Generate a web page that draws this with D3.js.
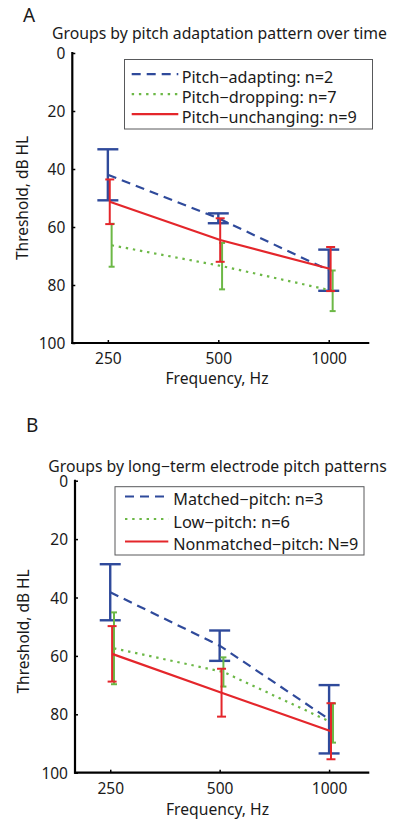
<!DOCTYPE html>
<html>
<head>
<meta charset="utf-8">
<script src="https://cdn.jsdelivr.net/npm/d3@7"></script>
<style>
  html, body { margin: 0; padding: 0; background: #fff; }
  svg { display: block; }
  text { font-family: "Noto Sans", "Open Sans", sans-serif; fill: #1a1a1a; }
</style>
</head>
<body>
<svg id="chart" width="400" height="825"></svg>
<script>
// ---------- data ----------
const xTickValues = [250, 500, 1000];
const xTickLabels = ["250", "500", "1000"];
const yTickValues = [0, 20, 40, 60, 80, 100];

// Panel A: groups by pitch adaptation pattern over time
const aLabels = ["Pitch\u2212adapting: n=2", "Pitch\u2212dropping: n=7", "Pitch\u2212unchanging: n=9"];
const aAdaptingX = [250, 500, 1000];
const aAdaptingMean = [42.0, 57.0, 74.9];
const aAdaptingErr = [8.8, 1.7, 7.1];
const aDroppingX = [256, 512, 1025];
const aDroppingMean = [66.3, 73.5, 82.0];
const aDroppingErr = [7.4, 8.0, 7.0];
const aUnchangingX = [253, 506, 1012];
const aUnchangingMean = [51.3, 64.5, 74.5];
const aUnchangingErr = [7.7, 7.5, 7.6];

// Panel B: groups by long-term electrode pitch patterns
const bLabels = ["Matched\u2212pitch: n=3", "Low\u2212pitch: n=6", "Nonmatched\u2212pitch: N=9"];
const bMatchedX = [250, 500, 1000];
const bMatchedMean = [38.2, 56.5, 81.7];
const bMatchedErr = [9.6, 5.2, 11.7];
const bLowX = [256, 512, 1025];
const bLowMean = [57.4, 65.5, 83.0];
const bLowErr = [12.3, 5.0, 6.7];
const bNonmatchedX = [253, 506, 1012];
const bNonmatchedMean = [59.3, 72.6, 85.8];
const bNonmatchedErr = [9.5, 8.2, 9.6];

// ---------- styles ----------
const BLUE = "#2f4a9b", GREEN = "#6cb846", RED = "#e4262b";
const styles = [
  { color: BLUE,  dash: "9,6",     cap: 10.5, barW: 2.4 },
  { color: GREEN, dash: "2.4,4.8", cap: 3,    barW: 2.0 },
  { color: RED,   dash: null,      cap: 4.5,  barW: 2.0 }
];
const FONT = '"Noto Sans", "Open Sans", sans-serif';

const svg = d3.select("#chart");

function drawPanel(cfg) {
  const g = svg.append("g");
  const x = d3.scaleLog().domain([200, 1290]).range([cfg.left, cfg.right]);
  const y = d3.scaleLinear().domain([0, 100]).range([cfg.top, cfg.bottom]);

  // panel letter
  g.append("text").attr("x", cfg.letterX).attr("y", cfg.letterY)
    .style("font-size", "19px").text(cfg.letter);
  // title
  g.append("text").attr("x", cfg.titleX).attr("y", cfg.titleY)
    .attr("textLength", cfg.titleLen).attr("lengthAdjust", "spacingAndGlyphs")
    .style("font-size", "15.5px").text(cfg.title);

  // axes
  const yAxis = d3.axisLeft(y).tickValues(yTickValues).tickSize(-3).tickPadding(7)
    .tickFormat(d3.format("d"));
  const yg = g.append("g").attr("transform", `translate(${cfg.left},0)`).call(yAxis);
  const xAxis = d3.axisBottom(x).tickValues(xTickValues).tickSize(-3).tickPadding(10)
    .tickFormat((d, i) => xTickLabels[i]);
  const xg = g.append("g").attr("transform", `translate(0,${cfg.bottom})`).call(xAxis);
  [yg, xg].forEach(a => {
    a.select(".domain").attr("stroke", "#000").attr("stroke-width", 2.2);
    a.selectAll(".tick line").attr("stroke", "#000").attr("stroke-width", 1.5);
    a.selectAll(".tick text").style("font-size", "15.5px").attr("fill", "#1a1a1a")
      .style("font-family", FONT);
  });
  yg.select(".domain").attr("d", `M0,${cfg.top - 1}V${cfg.bottom + 1}`);
  xg.select(".domain").attr("d", `M${cfg.left - 1},0H${cfg.right}`);
  yg.selectAll(".tick text").attr("dy", "0.36em");
  xg.selectAll(".tick text").attr("dy", "0.71em");

  // axis labels
  g.append("text").attr("transform", `translate(${cfg.yLabelX},${cfg.yLabelY}) rotate(-90)`)
    .attr("text-anchor", "middle").attr("textLength", 124).attr("lengthAdjust", "spacingAndGlyphs")
    .style("font-size", "15.5px").text("Threshold, dB HL");
  g.append("text").attr("x", cfg.xLabelX).attr("y", cfg.xLabelY)
    .attr("text-anchor", "middle").attr("textLength", 103).attr("lengthAdjust", "spacingAndGlyphs")
    .style("font-size", "15.5px").text("Frequency, Hz");

  // series
  const line = d3.line().x(d => x(d.f)).y(d => y(d.m));
  cfg.series.forEach((s, si) => {
    const st = styles[si];
    const pts = s.xs.map((f, i) => ({ f, m: s.mean[i], e: s.err[i] }));
    const sg = g.append("g");
    pts.forEach(p => {
      const px = x(p.f), y1 = y(p.m - p.e), y2 = y(p.m + p.e);
      sg.append("line").attr("x1", px).attr("x2", px).attr("y1", y1).attr("y2", y2)
        .attr("stroke", st.color).attr("stroke-width", st.barW);
      [y1, y2].forEach(yy => sg.append("line")
        .attr("x1", px - st.cap).attr("x2", px + st.cap).attr("y1", yy).attr("y2", yy)
        .attr("stroke", st.color).attr("stroke-width", st.barW));
    });
    sg.append("path").datum(pts).attr("d", line).attr("fill", "none")
      .attr("stroke", st.color).attr("stroke-width", 2.2)
      .attr("stroke-dasharray", st.dash);
  });

  // legend
  const L = cfg.legend;
  g.append("rect").attr("x", L.x).attr("y", L.y).attr("width", L.w).attr("height", L.h)
    .attr("fill", "#fff").attr("stroke", "#58595b").attr("stroke-width", 1);
  cfg.labels.forEach((lab, i) => {
    const st = styles[i];
    const by = L.firstBase + i * L.step;
    g.append("line").attr("x1", L.sx1).attr("x2", L.sx2)
      .attr("y1", by - 8.5).attr("y2", by - 8.5)
      .attr("stroke", st.color).attr("stroke-width", 2.2)
      .attr("stroke-dasharray", st.dash);
    g.append("text").attr("x", L.tx).attr("y", by)
      .attr("textLength", L.lens[i]).attr("lengthAdjust", "spacingAndGlyphs")
      .style("font-size", "15.5px").text(lab);
  });
}

drawPanel({
  letter: "A", letterX: 23, letterY: 22,
  title: "Groups by pitch adaptation pattern over time", titleX: 52, titleY: 38.5, titleLen: 335,
  left: 72.3, right: 369.3, top: 53, bottom: 343,
  yLabelX: 28, yLabelY: 198, xLabelX: 217, xLabelY: 384,
  labels: aLabels,
  series: [
    { xs: aAdaptingX, mean: aAdaptingMean, err: aAdaptingErr },
    { xs: aDroppingX, mean: aDroppingMean, err: aDroppingErr },
    { xs: aUnchangingX, mean: aUnchangingMean, err: aUnchangingErr }
  ],
  legend: { x: 124.5, y: 59.5, w: 248, h: 69.5, firstBase: 82.7, step: 20,
            sx1: 131.7, sx2: 178.3, tx: 181.7, lens: [151.6, 155, 175] }
});

drawPanel({
  letter: "B", letterX: 26, letterY: 432,
  title: "Groups by long\u2212term electrode pitch patterns", titleX: 48.3, titleY: 472, titleLen: 338.4,
  left: 75, right: 369.3, top: 480.7, bottom: 772.7,
  yLabelX: 29, yLabelY: 631.5, xLabelX: 217.5, xLabelY: 814.5,
  labels: bLabels,
  series: [
    { xs: bMatchedX, mean: bMatchedMean, err: bMatchedErr },
    { xs: bLowX, mean: bLowMean, err: bLowErr },
    { xs: bNonmatchedX, mean: bNonmatchedMean, err: bNonmatchedErr }
  ],
  legend: { x: 115, y: 486.7, w: 249, h: 68.3, firstBase: 505, step: 22.5,
            sx1: 125, sx2: 168.3, tx: 173.3, lens: [150, 116.7, 185] }
});
</script>
</body>
</html>
